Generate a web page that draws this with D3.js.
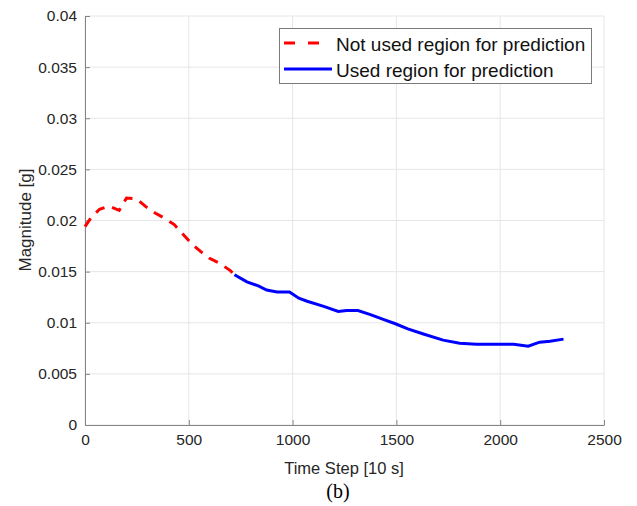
<!DOCTYPE html>
<html>
<head>
<meta charset="utf-8">
<script src="https://cdn.jsdelivr.net/npm/d3@7"></script>
<style>
  body { margin: 0; background: #fff; }
  text { font-family: "Liberation Sans", Arial, sans-serif; }
</style>
</head>
<body>
<script>
// ---- data ----
var notUsedX = [0, 30, 70, 115, 165, 200, 250, 290, 340, 385, 430, 470, 515, 555, 600, 650, 700, 720]
var notUsedY = [0.0194, 0.0203, 0.0211, 0.0214, 0.0210, 0.0222, 0.0221, 0.0214, 0.0207, 0.0202, 0.0196, 0.0187, 0.0177, 0.0170, 0.0163, 0.0158, 0.0151, 0.0147]
var usedX = [720, 780, 835, 875, 925, 985, 1030, 1070, 1150, 1220, 1260, 1315, 1375, 1440, 1495, 1555, 1630, 1725, 1805, 1885, 1935, 2000, 2065, 2135, 2190, 2240, 2305]
var usedY = [0.0147, 0.0140, 0.0136, 0.0132, 0.0130, 0.0130, 0.0124, 0.0121, 0.0116, 0.0111, 0.0112, 0.0112, 0.0108, 0.0103, 0.0099, 0.0094, 0.0089, 0.0083, 0.0080, 0.0079, 0.0079, 0.0079, 0.0079, 0.0077, 0.0081, 0.0082, 0.0084]
var xTicks = [0, 500, 1000, 1500, 2000, 2500]
var yTicks = [0, 0.005, 0.01, 0.015, 0.02, 0.025, 0.03, 0.035, 0.04]
var legendLabels = ["Not used region for prediction", "Used region for prediction"]

var W = 637, H = 506
var svg = d3.select('body').append('svg').attr('width', W).attr('height', H)

var x = d3.scaleLinear().domain([0, 2500]).range([85, 604])
var y = d3.scaleLinear().domain([0, 0.04]).range([425, 16])

// grid
svg.append('g').selectAll('line').data(xTicks).enter().append('line')
  .attr('x1', function(d){return x(d)}).attr('x2', function(d){return x(d)})
  .attr('y1', y(0)).attr('y2', y(0.04))
  .style('stroke', '#e6e6e6').style('stroke-width', 1)
svg.append('g').selectAll('line').data(yTicks).enter().append('line')
  .attr('y1', function(d){return y(d)}).attr('y2', function(d){return y(d)})
  .attr('x1', x(0)).attr('x2', x(2500))
  .style('stroke', '#e6e6e6').style('stroke-width', 1)

// axes, ticks pointing inwards
var xAxis = svg.append('g').attr('transform', 'translate(0,' + y(0) + ')')
  .call(d3.axisBottom(x).tickValues(xTicks).tickSizeInner(-5).tickSizeOuter(0).tickPadding(9)
    .tickFormat(d3.format('d')))
var yAxis = svg.append('g').attr('transform', 'translate(' + x(0) + ',0)')
  .call(d3.axisLeft(y).tickValues(yTicks).tickSizeInner(-5).tickSizeOuter(0).tickPadding(8)
    .tickFormat(function(d){return d === 0 ? '0' : String(+d.toFixed(3))}))
;[xAxis, yAxis].forEach(function(a) {
  a.select('.domain').style('stroke', '#858585')
  a.selectAll('.tick line').style('stroke', '#858585')
  a.selectAll('text').style('font-size', '15.5px').style('fill', '#262626')
})

// curves
var line = d3.line()
  .x(function(d){return x(d[0])})
  .y(function(d){return y(d[1])})

svg.append('path')
  .datum(notUsedX.map(function(v, i){return [v, notUsedY[i]]}))
  .attr('d', line)
  .style('fill', 'none').style('stroke', '#ff0000').style('stroke-width', 3)
  .style('stroke-dasharray', '10,8')

svg.append('path')
  .datum(usedX.map(function(v, i){return [v, usedY[i]]}))
  .attr('d', line)
  .style('fill', 'none').style('stroke', '#0000ff').style('stroke-width', 3)

// legend
var leg = svg.append('g')
leg.append('rect').attr('x', 279.5).attr('y', 28.5).attr('width', 312).attr('height', 55)
  .style('fill', '#fff').style('stroke', '#7a7a7a').style('stroke-width', 1)
leg.append('line').attr('x1', 284).attr('x2', 332).attr('y1', 43).attr('y2', 43)
  .style('stroke', '#ff0000').style('stroke-width', 3).style('stroke-dasharray', '11,13')
leg.append('line').attr('x1', 284).attr('x2', 332).attr('y1', 69).attr('y2', 69)
  .style('stroke', '#0000ff').style('stroke-width', 3)
leg.selectAll('text').data(legendLabels).enter().append('text')
  .attr('x', 336).attr('y', function(d, i){return 51 + i * 26})
  .style('font-size', '19px').style('fill', '#111')
  .text(function(d){return d})

// axis labels
svg.append('text').attr('x', 344).attr('y', 474).attr('text-anchor', 'middle')
  .style('font-size', '16.5px').style('fill', '#262626').text('Time Step [10 s]')
svg.append('text').attr('transform', 'translate(31,220) rotate(-90)').attr('text-anchor', 'middle')
  .style('font-size', '17px').style('fill', '#262626').text('Magnitude [g]')

// caption
svg.append('text').attr('x', 338).attr('y', 498).attr('text-anchor', 'middle')
  .style('font-family', '"Liberation Serif", "Times New Roman", serif')
  .style('font-size', '20px').style('fill', '#000').text('(b)')
</script>
</body>
</html>
